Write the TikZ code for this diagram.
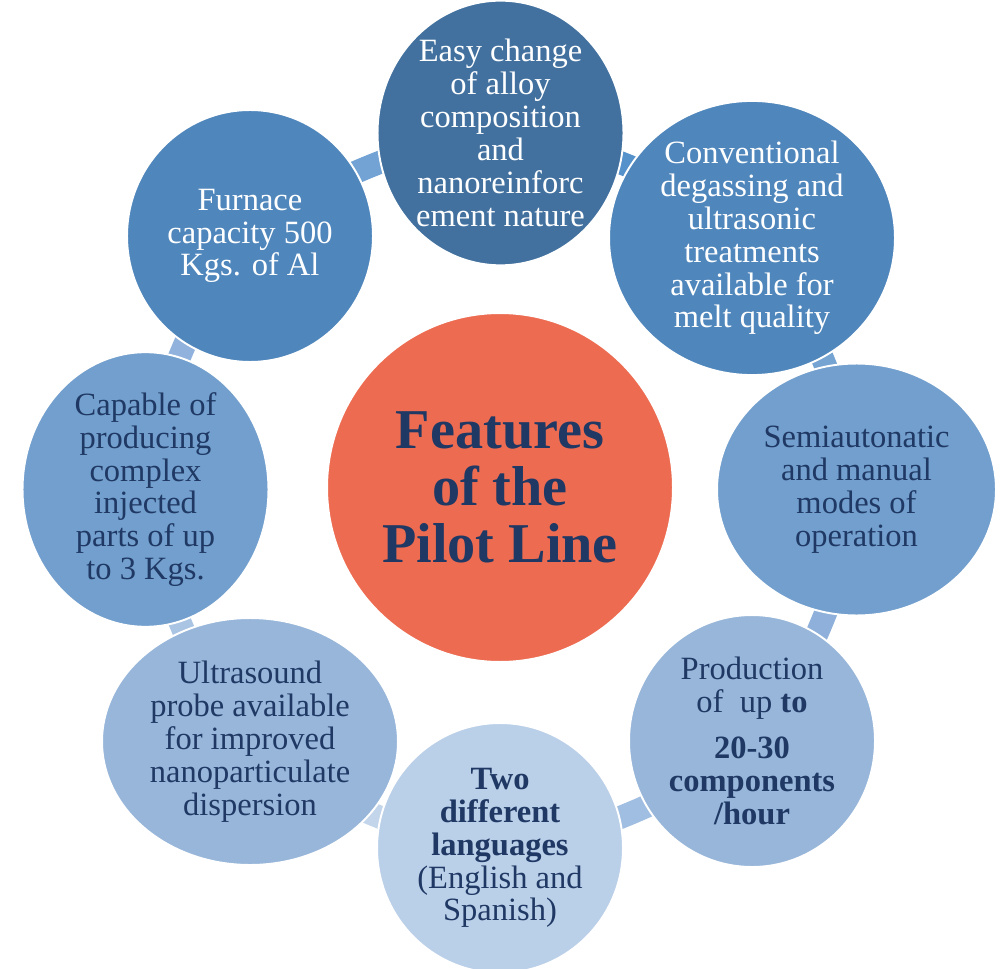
\documentclass[tikz,border=0pt]{standalone}
\usepackage{fontspec}
\setmainfont{Liberation Serif}
\usetikzlibrary{shapes.geometric,backgrounds}
\definecolor{O1}{RGB}{237,108,81}
\definecolor{N1}{RGB}{31,56,100}
\definecolor{B1}{RGB}{66,113,159}
\definecolor{B2}{RGB}{79,134,188}
\definecolor{B3}{RGB}{114,159,205}
\definecolor{B4}{RGB}{151,182,218}
\definecolor{B5}{RGB}{186,207,232}
\definecolor{L1}{RGB}{85,145,203}
\definecolor{L2}{RGB}{117,163,210}
\definecolor{L3}{RGB}{142,176,218}
\definecolor{L4}{RGB}{160,190,226}
\definecolor{L5}{RGB}{195,213,235}
\definecolor{L6}{RGB}{170,196,228}
\definecolor{L7}{RGB}{145,178,220}
\definecolor{L8}{RGB}{114,163,212}
\tikzstyle{bubble}=[ellipse, draw=white, line width=1.1pt, inner sep=0, align=center,
  minimum width=4.92cm, minimum height=5.04cm, font=\fontsize{18.5}{18.7}\selectfont]
\tikzstyle{link}=[line width=0.46cm, bend left=22.5, looseness=0.62]

\begin{document}
\begin{tikzpicture}[x=0.02cm,y=0.02cm]
  \useasboundingbox (0,0) rectangle (1000,968);
  % centre
  \node[bubble, fill=O1, text=N1, minimum width=6.92cm, minimum height=6.98cm,
    font=\bfseries\fontsize{32}{32.3}\selectfont] (hub) at (500,480.5) {Features\\of the\\Pilot Line};
  % ring
  \node[bubble, fill=B1, text=white, minimum height=5cm] (top) at (500.5,835)
    {Easy change\\of alloy\\composition\\and\\nanoreinforc\\ement nature};
  \node[bubble, fill=B2, text=white, minimum width=5.72cm, minimum height=5cm] (conv) at (752,730)
    {Conventional\\degassing and\\ultrasonic\\treatments\\available for\\melt quality};
  \node[bubble, fill=B3, text=N1, minimum width=5.58cm] (semi) at (856.5,478.5)
    {Semiautonatic\\and manual\\modes of\\operation};
  \node[bubble, fill=B4, text=N1] (prod) at (752,227)
    {Production\\of~ up \textbf{to}\\[7.5pt]\textbf{20-30}\\\textbf{components}\\\textbf{/hour}};
  \node[bubble, fill=B5, text=N1, minimum height=5cm] (two) at (500,120)
    {\textbf{Two}\\\textbf{different}\\\textbf{languages}\\(English and\\Spanish)};
  \node[bubble, fill=B4, text=N1, minimum width=5.92cm, minimum height=4.94cm] (ultra) at (250,226.5)
    {Ultrasound\\probe available\\for improved\\nanoparticulate\\dispersion};
  \node[bubble, fill=B3, text=N1] (capable) at (145.5,478.5)
    {Capable of\\producing\\complex\\injected\\parts of up\\to 3 Kgs.};
  \node[bubble, fill=B2, text=white] (furnace) at (250,732)
    {Furnace\\capacity 500\\Kgs. of Al};
  % links between neighbours
  \begin{scope}[on background layer]
    \draw[link, L1] (top.center) to (conv.center);
    \draw[link, L2] (conv.center) to (semi.center);
    \draw[link, L3] (semi.center) to (prod.center);
    \draw[link, L4] (prod.center) to (two.center);
    \draw[link, L5] (two.center) to (ultra.center);
    \draw[link, L6] (ultra.center) to (capable.center);
    \draw[link, L7] (capable.center) to (furnace.center);
    \draw[link, L8] (furnace.center) to (top.center);
  \end{scope}
\end{tikzpicture}
\end{document}
